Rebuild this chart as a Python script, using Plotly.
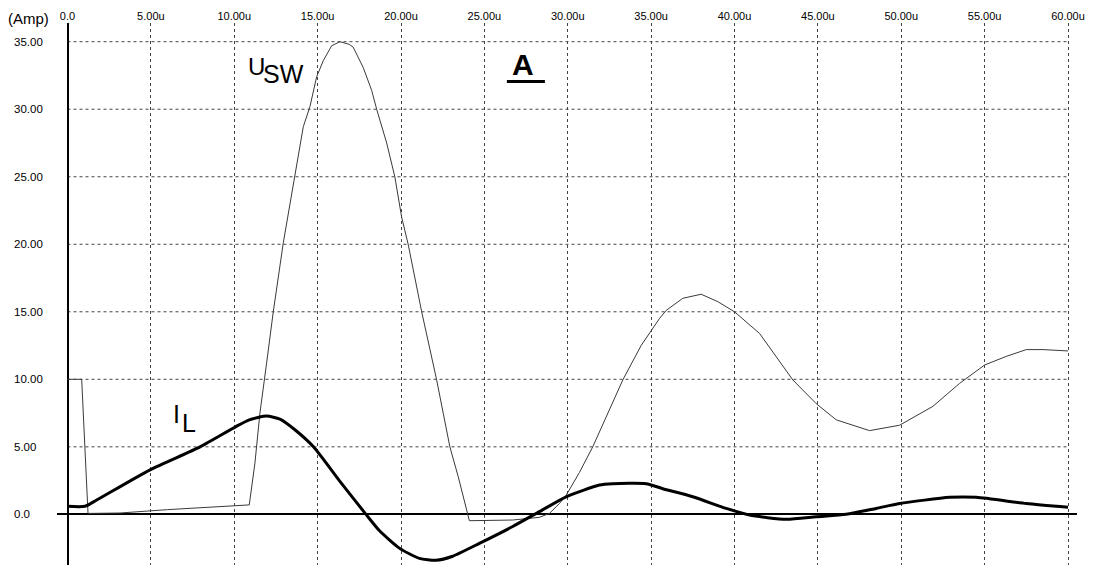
import plotly.graph_objects as go

# ---- data (time in microseconds, amplitude in Amp) ----
usw_t = [0, 0.85, 1.23, 3.15, 6.0, 10.9, 11.24, 11.54, 11.94, 12.34, 12.94, 13.54, 14.14, 14.54,
         14.94, 15.34, 15.84, 16.34, 16.9, 17.13, 17.73, 18.24, 18.54, 19.14, 19.63, 20.04, 20.43,
         21.24, 21.73, 22.13, 22.53, 22.93, 23.43, 24.03, 24.1, 26.7, 28.3, 28.9, 29.5, 29.9, 30.7,
         31.5, 32.4, 33.3, 34.4, 35.5, 35.9, 36.9, 38.0, 39.0, 40.0, 41.5, 43.5, 44.9, 46.1, 48.1,
         49.9, 51.9, 53.5, 55.0, 56.3, 57.5, 58.5, 60.0]
usw_v = [10.0, 10.0, 0.07, 0.1, 0.35, 0.7, 3.8, 7.5, 11.2, 15.0, 20.1, 24.5, 28.7, 30.2,
         32.4, 33.6, 34.7, 35.0, 34.8, 34.6, 33.1, 31.4, 30.0, 27.5, 25.0, 22.0, 20.0,
         15.0, 12.3, 10.0, 7.5, 5.0, 2.8, 0.0, -0.47, -0.42, -0.22, 0.07, 0.8, 1.4, 3.1,
         5.0, 7.5, 9.95, 12.5, 14.5, 15.1, 16.0, 16.3, 15.75, 15.0, 13.4, 9.95, 8.2, 7.0, 6.2,
         6.6, 8.0, 9.7, 11.06, 11.7, 12.2, 12.2, 12.1]

il_t = [0, 1.05, 1.75, 4.95, 7.95, 10.1, 10.9, 11.94, 12.74, 13.6, 14.75, 16.3, 17.9, 18.7,
        19.9, 21.1, 22.1, 23.1, 24.7, 26.7, 28.3, 29.9, 31.9, 32.7, 34.7, 35.7, 37.5, 39.5,
        40.9, 43.1, 44.9, 46.7, 48.5, 49.9, 52.9, 54.5, 57.5, 60.0]
il_v = [0.6, 0.6, 1.06, 3.3, 5.0, 6.5, 7.0, 7.28, 7.05, 6.3, 5.0, 2.5, 0.0, -1.2,
        -2.5, -3.26, -3.4, -3.1, -2.15, -0.9, 0.2, 1.3, 2.17, 2.27, 2.27, 1.9, 1.3, 0.44,
        -0.05, -0.37, -0.18, 0.0, 0.44, 0.8, 1.26, 1.26, 0.8, 0.52]

x_ticks = [0, 5, 10, 15, 20, 25, 30, 35, 40, 45, 50, 55, 60]
x_labels = ["0.0", "5.00u", "10.00u", "15.00u", "20.00u", "25.00u", "30.00u",
            "35.00u", "40.00u", "45.00u", "50.00u", "55.00u", "60.00u"]
y_ticks = [0, 5, 10, 15, 20, 25, 30, 35]
y_labels = ["0.0", "5.00", "10.00", "15.00", "20.00", "25.00", "30.00", "35.00"]

FONT = "Arial, Liberation Sans, sans-serif"
GRID = "#444444"

fig = go.Figure()
fig.add_trace(go.Scatter(x=usw_t, y=usw_v, mode="lines",
                         line=dict(color="#3a3a3a", width=1), hoverinfo="skip"))
fig.add_trace(go.Scatter(x=il_t, y=il_v, mode="lines",
                         line=dict(color="black", width=3, shape="spline", smoothing=0.6),
                         hoverinfo="skip"))

# horizontal dashed gridlines spanning the time axis only
for yv in y_ticks[1:]:
    fig.add_shape(type="line", xref="x", yref="y", x0=x_ticks[0], x1=x_ticks[-1], y0=yv, y1=yv,
                  line=dict(color=GRID, width=1, dash="3px,3px"), layer="below")

# y tick labels, left aligned
for yv, lab in zip(y_ticks, y_labels):
    fig.add_annotation(xref="paper", yref="y", x=-0.0441, y=yv, text=lab, showarrow=False,
                       xanchor="left", yanchor="middle", font=dict(family=FONT, size=11.5, color="black"))

fig.add_annotation(xref="paper", yref="paper", x=-0.05, y=1.0092, text="(Amp)", showarrow=False,
                   xanchor="left", yanchor="middle", font=dict(family=FONT, size=15, color="black"))

# curve labels
fig.add_annotation(xref="x", yref="y", x=10.7, y=33.2, text="U", showarrow=False,
                   xanchor="left", yanchor="middle", font=dict(family=FONT, size=24, color="black"))
fig.add_annotation(xref="x", yref="y", x=11.6, y=32.6, text="SW", showarrow=False,
                   xanchor="left", yanchor="middle", font=dict(family=FONT, size=25, color="black"))
fig.add_annotation(xref="x", yref="y", x=6.2, y=7.4, text="I", showarrow=False,
                   xanchor="left", yanchor="middle", font=dict(family=FONT, size=25, color="black"))
fig.add_annotation(xref="x", yref="y", x=6.75, y=6.8, text="L", showarrow=False,
                   xanchor="left", yanchor="middle", font=dict(family=FONT, size=25, color="black"))
fig.add_annotation(xref="x", yref="y", x=27.3, y=33.3, text="<b>A</b>", showarrow=False,
                   xanchor="center", yanchor="middle", font=dict(family=FONT, size=30, color="black"))
fig.add_shape(type="line", xref="x", yref="y", x0=26.35, x1=28.63, y0=32.06, y1=32.06,
              line=dict(color="black", width=3))

fig.update_layout(
    width=1093, height=569,
    margin=dict(l=57, r=16, t=23, b=4),
    paper_bgcolor="white", plot_bgcolor="white",
    showlegend=False,
    xaxis=dict(range=[-0.63, 60.54], side="top", tickmode="array", tickvals=x_ticks,
               ticktext=x_labels, ticks="", showgrid=True, gridcolor=GRID, gridwidth=1,
               griddash="3px,3px", zeroline=True, zerolinecolor="black", zerolinewidth=2,
               showline=False, tickfont=dict(family=FONT, size=11, color="black")),
    yaxis=dict(range=[-3.75, 36.385], showgrid=False, showticklabels=False, ticks="",
               zeroline=True, zerolinecolor="black", zerolinewidth=2, showline=False),
)

fig.write_html("out.html")
